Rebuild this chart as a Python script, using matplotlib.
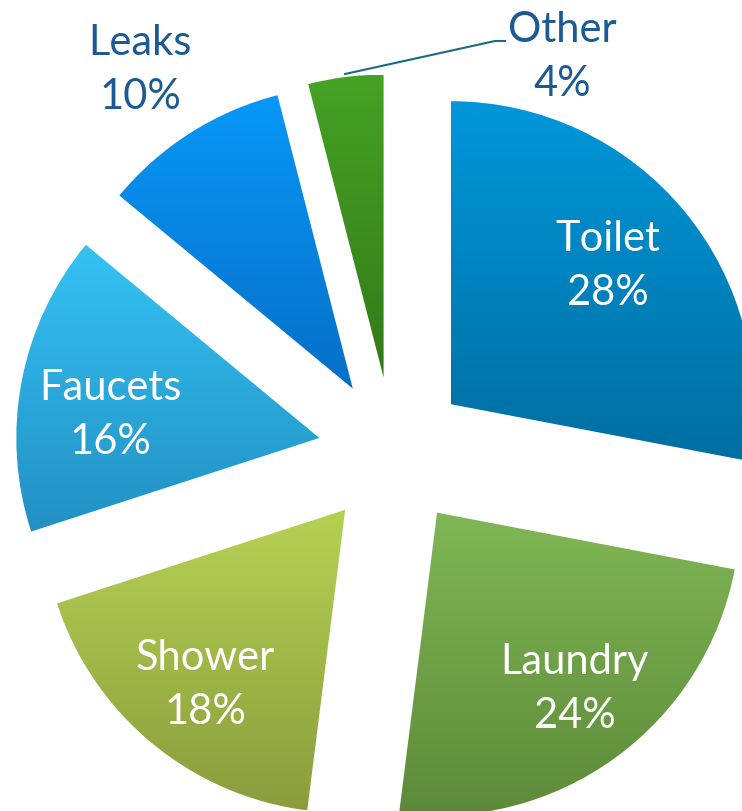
import numpy as np
import matplotlib
matplotlib.use("Agg")
import matplotlib.pyplot as plt

# water use by category, clockwise from 12 o'clock
categories = ["Toilet", "Laundry", "Shower", "Faucets", "Leaks", "Other"]
shares = [28, 24, 18, 16, 10, 4]

# vertical gradient per slice (top colour, bottom colour)
top_colors = ["#0097da", "#80b755", "#b6d253", "#35c2f4", "#0898f7", "#46a224"]
bottom_colors = ["#006ea1", "#5d8a39", "#899d3d", "#2290c3", "#066fc8", "#337a19"]

# label centres in pixel coords (x, y from top)
label_xy = [(608, 266), (575, 689), (205, 685), (110, 415), (140, 70), (562, 57)]
label_col = ["white", "white", "white", "white", "#1c5a94", "#1c5a94"]

W, H = 742, 812
fig = plt.figure(figsize=(W / 100, H / 100), dpi=100)
ax = fig.add_axes([0, 0, 1, 1])

wedges, _ = ax.pie(shares, center=(393, -453), radius=303, explode=[75] * 6,
                   startangle=90, counterclock=False, frame=True)

def hex2rgb(h):
    return np.array(matplotlib.colors.to_rgb(h))

# fill each wedge with a top-to-bottom gradient clipped to its shape
for w, c0, c1 in zip(wedges, top_colors, bottom_colors):
    w.set_facecolor("none")
    w.set_edgecolor("none")
    ext = w.get_path().get_extents()
    t = np.linspace(0, 1, 256)[:, None, None]
    img = hex2rgb(c0)[None, None, :] * (1 - t) + hex2rgb(c1)[None, None, :] * t
    im = ax.imshow(img, extent=[ext.x0, ext.x1, ext.y0, ext.y1], origin="upper",
                   aspect="auto", zorder=1)
    im.set_clip_path(w)

for name, val, (x, y), col in zip(categories, shares, label_xy, label_col):
    ax.text(x, -y, f"{name}\n{val}%", ha="center", va="center", color=col,
            fontsize=30, family="Lato", linespacing=1.5, zorder=3)

# leader line for the small slice
ax.plot([345, 495, 505], [-75, -42, -42], color="#1b6a82", lw=1.5, zorder=3)

ax.set_xlim(0, W)
ax.set_ylim(-H, 0)
ax.set_aspect("auto")
ax.axis("off")

fig.savefig("out.png", dpi=100)
